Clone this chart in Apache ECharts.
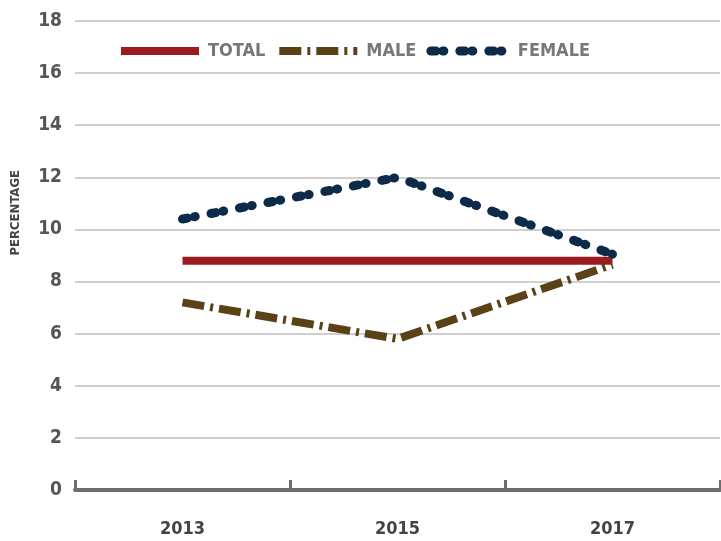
<!DOCTYPE html>
<html>
<head>
<meta charset="utf-8">
<script src="https://cdn.jsdelivr.net/npm/echarts@6/dist/echarts.min.js"></script>
<style>
  html, body { margin: 0; padding: 0; background: #fff; }
  #chart1 { width: 721px; height: 541px; }
</style>
</head>
<body>
<div id="chart1"></div>
<script>
// Datos
const years = ['2013', '2015', '2017'];
const totalData = [8.8, 8.8, 8.8];
const maleData = [7.2, 5.8, 8.65];
const femaleData = [10.4, 12.0, 9.05];
const yTicks = { min: 0, max: 18, interval: 2 };

const fam = '"DejaVu Sans", sans-serif';

const totalLine = { color: '#9b1b20', width: 8, cap: 'butt' };
const maleLine = { color: '#5a4116', width: 8, type: [22, 6, 3, 6], cap: 'butt' };
const femaleLine = { color: '#0c2b48', width: 9, type: [5, 7, 1, 16], cap: 'round' };

const getOption = () => ({
  animation: false,
  backgroundColor: '#fff',
  grid: { left: 75, right: 1, top: 21, bottom: 51 },
  legend: {
    top: 37,
    left: 112,
    itemWidth: 78,
    itemHeight: 8,
    itemGap: 10,
    textStyle: {
      fontFamily: fam,
      fontStyle: 'condensed',
      fontWeight: 'bold',
      fontSize: 18,
      color: '#777',
      padding: [0, 0, 0, 4]
    },
    data: [
      { name: 'TOTAL', itemStyle: { opacity: 0 }, lineStyle: totalLine },
      { name: 'MALE', itemStyle: { opacity: 0 }, lineStyle: maleLine },
      { name: 'FEMALE', itemStyle: { opacity: 0 }, lineStyle: femaleLine }
    ]
  },
  graphic: [{
    type: 'text',
    left: 9,
    top: 170,
    rotation: Math.PI / 2,
    style: {
      text: 'PERCENTAGE',
      font: 'condensed bold 13px ' + fam,
      fill: '#444'
    }
  }],
  xAxis: {
    type: 'category',
    data: years,
    boundaryGap: true,
    axisLine: { show: true, lineStyle: { color: '#6e6e6e', width: 4 } },
    axisTick: { show: true, interval: 0, inside: true, length: 10, lineStyle: { color: '#6e6e6e', width: 3 } },
    axisLabel: {
      margin: 30,
      fontFamily: fam,
      fontStyle: 'condensed',
      fontWeight: 'bold',
      fontSize: 18,
      color: '#444'
    },
    splitLine: { show: false }
  },
  yAxis: {
    type: 'value',
    min: yTicks.min,
    max: yTicks.max,
    interval: yTicks.interval,
    axisLine: { show: false },
    axisTick: { show: false },
    axisLabel: {
      margin: 13,
      fontFamily: fam,
      fontStyle: 'condensed',
      fontWeight: 'bold',
      fontSize: 19,
      color: '#555'
    },
    splitLine: { lineStyle: { color: '#cfcfcf', width: 2 } }
  },
  series: [
    { name: 'TOTAL', type: 'line', data: totalData, symbol: 'none', color: totalLine.color, lineStyle: totalLine, z: 3 },
    { name: 'MALE', type: 'line', data: maleData, symbol: 'none', color: maleLine.color, lineStyle: maleLine, z: 4 },
    { name: 'FEMALE', type: 'line', data: femaleData, symbol: 'none', color: femaleLine.color, lineStyle: femaleLine, z: 5 }
  ]
});

window.addEventListener('load', () => {
  const chart1 = echarts.init(document.getElementById('chart1'));
  chart1.setOption(getOption());
});
</script>
</body>
</html>
